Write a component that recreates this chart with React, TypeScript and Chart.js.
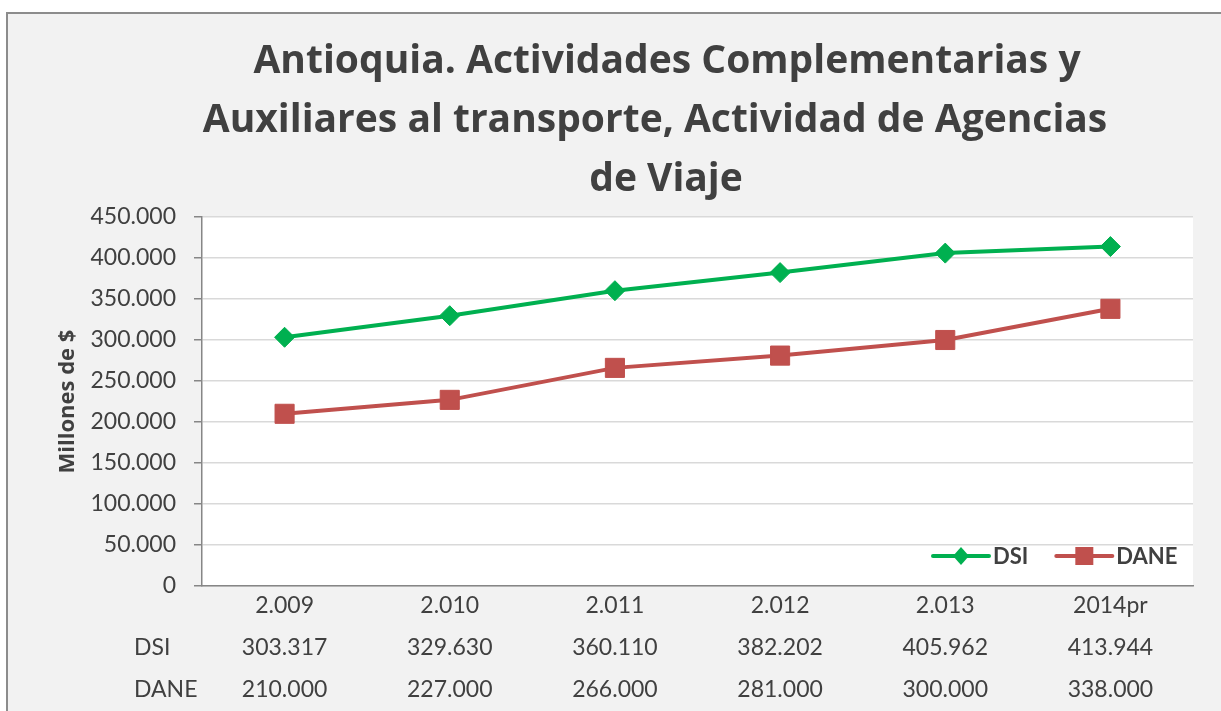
import React, { useEffect, useRef } from 'react';
import { Chart, registerables } from 'chart.js';

Chart.register(...registerables);

const categories = ['2.009', '2.010', '2.011', '2.012', '2.013', '2014pr'];
const dsiValues = [303317, 329630, 360110, 382202, 405962, 413944];
const daneValues = [210000, 227000, 266000, 281000, 300000, 338000];
const seriesNames = ['DSI', 'DANE'];
const seriesColors = ['#00b050', '#c0504d'];
const titleLines = [
  'Antioquia. Actividades Complementarias y',
  'Auxiliares al transporte, Actividad de Agencias',
  'de Viaje',
];
const titleCenters = [667, 655, 666];
const yAxisTitle = 'Millones de $';
const yMin = 0;
const yMax = 450000;
const yStep = 50000;

const TEXT = '#404040';
const FONT = 'Lato, "Open Sans", sans-serif';
const TITLE_FONT = '"Open Sans", Lato, sans-serif';

const fmt = (v: number) => String(Math.round(v)).replace(/\B(?=(\d{3})+(?!\d))/g, '.');

const decorPlugin = {
  id: 'decor',
  beforeDraw(chart: any) {
    const { ctx, chartArea } = chart;
    ctx.save();
    ctx.fillStyle = '#ffffff';
    ctx.fillRect(chartArea.left, chartArea.top, chartArea.right - chartArea.left, chartArea.bottom - chartArea.top);
    ctx.restore();
  },
  afterDraw(chart: any) {
    const { ctx, chartArea } = chart;
    const xScale = chart.scales.x;
    ctx.save();
    // Title
    ctx.fillStyle = TEXT;
    ctx.font = `bold 39px ${TITLE_FONT}`;
    ctx.textAlign = 'center';
    ctx.textBaseline = 'alphabetic';
    titleLines.forEach((line, i) => {
      ctx.fillText(line, titleCenters[i], 73 + i * 59);
    });

    // Data table
    const rows = [dsiValues, daneValues];
    ctx.font = `23px ${FONT}`;
    ctx.textBaseline = 'middle';
    rows.forEach((vals, r) => {
      const y = chartArea.bottom + 62 + r * 42;
      ctx.textAlign = 'left';
      ctx.fillText(seriesNames[r], 134, y);
      ctx.textAlign = 'center';
      vals.forEach((v, j) => {
        ctx.fillText(fmt(v), xScale.getPixelForValue(j), y);
      });
    });

    // Legend
    ctx.font = `bold 22px ${FONT}`;
    const ly = chartArea.bottom - 30;
    let x = chartArea.right - 260;
    const lineLen = 56;
    seriesNames.forEach((name, i) => {
      const c = seriesColors[i];
      ctx.strokeStyle = c;
      ctx.lineWidth = 4;
      ctx.lineCap = 'round';
      ctx.beginPath();
      ctx.moveTo(x, ly);
      ctx.lineTo(x + lineLen, ly);
      ctx.stroke();
      const cx = x + lineLen / 2;
      ctx.fillStyle = c;
      ctx.beginPath();
      if (i === 0) {
        ctx.moveTo(cx, ly - 9);
        ctx.lineTo(cx + 8, ly);
        ctx.lineTo(cx, ly + 9);
        ctx.lineTo(cx - 8, ly);
        ctx.closePath();
      } else {
        ctx.rect(cx - 9, ly - 9, 18, 18);
      }
      ctx.fill();
      ctx.fillStyle = TEXT;
      ctx.textAlign = 'left';
      ctx.textBaseline = 'middle';
      ctx.fillText(name, x + lineLen + 4, ly + 1);
      x += lineLen + 4 + ctx.measureText(name).width + 28;
    });
    ctx.restore();
  },
};

export default function App() {
  const ref = useRef<HTMLCanvasElement | null>(null);

  useEffect(() => {
    if (!ref.current) return;
    const chart = new Chart(ref.current, {
      type: 'line',
      data: {
        labels: categories,
        datasets: [
          {
            label: seriesNames[0],
            data: dsiValues,
            borderColor: seriesColors[0],
            backgroundColor: seriesColors[0],
            borderWidth: 4,
            pointStyle: 'rectRot',
            pointRadius: 10,
            pointBackgroundColor: seriesColors[0],
            pointBorderColor: seriesColors[0],
            pointBorderWidth: 1,
            tension: 0,
          },
          {
            label: seriesNames[1],
            data: daneValues,
            borderColor: seriesColors[1],
            backgroundColor: seriesColors[1],
            borderWidth: 4,
            pointStyle: 'rect',
            pointRadius: 13.5,
            pointBackgroundColor: seriesColors[1],
            pointBorderColor: seriesColors[1],
            pointBorderWidth: 1,
            tension: 0,
          },
        ],
      },
      options: {
        responsive: false,
        animation: false,
        devicePixelRatio: 1,
        layout: { padding: { left: 51, right: 28, top: 217, bottom: 85 } },
        plugins: {
          legend: { display: false },
          title: { display: false },
          tooltip: { enabled: false },
        },
        scales: {
          x: {
            offset: true,
            grid: { display: false },
            border: { display: true, color: '#868686', width: 1.5 },
            ticks: { color: TEXT, font: { family: FONT, size: 23, lineHeight: 1.0 }, padding: 0, maxRotation: 0 },
            afterFit: (s: any) => { s.height = 40; },
          },
          y: {
            min: yMin,
            max: yMax,
            grid: { color: '#d9d9d9', lineWidth: 1.5, tickColor: '#868686', tickLength: 8 },
            border: { display: true, color: '#868686', width: 1.5 },
            ticks: {
              stepSize: yStep,
              color: TEXT,
              padding: 18,
              font: { family: FONT, size: 23 },
              callback: (v: any) => fmt(Number(v)),
            },
            title: {
              display: true,
              text: yAxisTitle,
              color: TEXT,
              font: { family: TITLE_FONT, size: 22, weight: 'bold' },
            },
            afterFit: (s: any) => { s.width = 151; },
          },
        },
      },
      plugins: [decorPlugin],
    });
    return () => chart.destroy();
  }, []);

  return (
    <div style={{ position: 'absolute', left: 0, top: 0, width: 1221, height: 711, overflow: 'hidden', background: '#ffffff' }}>
      <div
        style={{
          position: 'absolute',
          left: 6,
          top: 12,
          width: 1240,
          height: 740,
          background: '#f2f2f2',
          border: '2px solid #8c8c8c',
        }}
      />
      <canvas ref={ref} width={1221} height={711} style={{ position: 'absolute', left: 0, top: 0, width: 1221, height: 711 }} />
    </div>
  );
}
